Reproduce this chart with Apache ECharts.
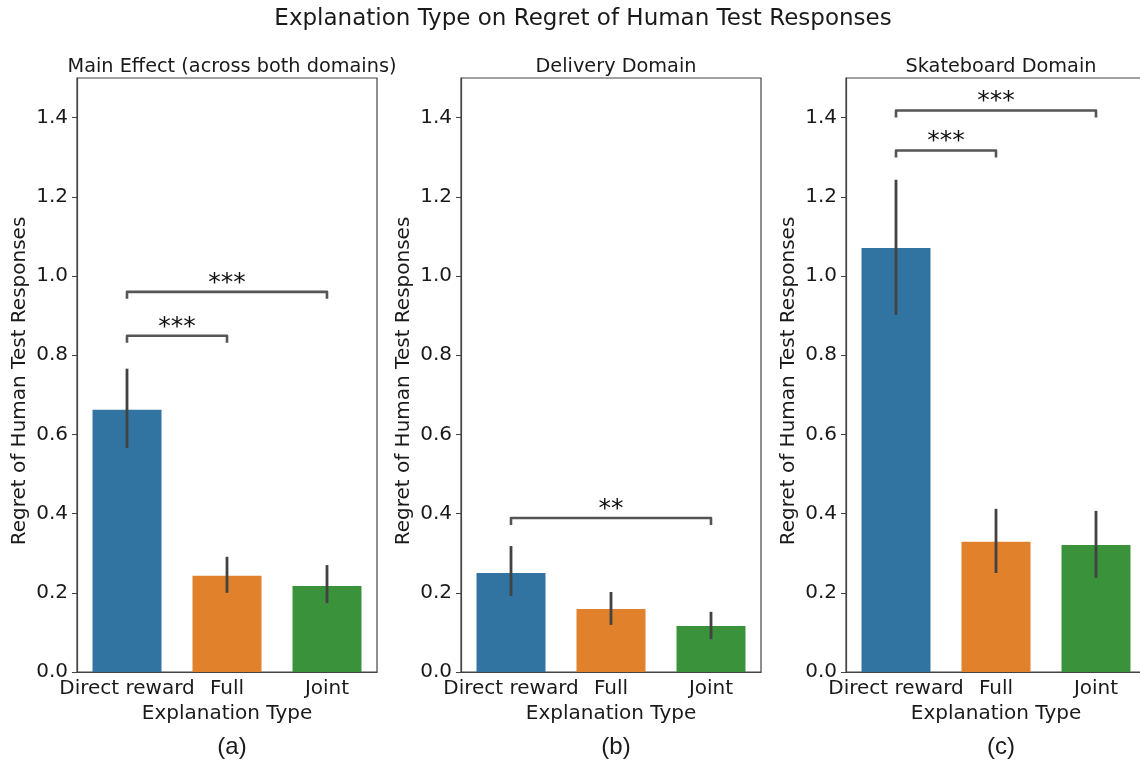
<!DOCTYPE html>
<html>
<head>
<meta charset="utf-8">
<script src="https://cdn.jsdelivr.net/npm/echarts@6/dist/echarts.min.js"></script>
<style>
html,body{margin:0;padding:0;background:#fff;overflow:hidden;}
#chart{width:1160px;height:767px;}
</style>
</head>
<body>
<div id="chart"></div>
<script>
// categories and tick labels
var categories = ['Direct reward', 'Full', 'Joint'];
var yTicks = [0, 0.2, 0.4, 0.6, 0.8, 1.0, 1.2, 1.4];
var panelTitles = ['Main Effect (across both domains)', 'Delivery Domain', 'Skateboard Domain'];
var panelTags = ['(a)', '(b)', '(c)'];

// mean regret and 95% CI per panel
var mainMean = [0.662, 0.243, 0.217];
var mainLow = [0.566, 0.200, 0.174];
var mainHigh = [0.766, 0.291, 0.270];

var deliveryMean = [0.250, 0.159, 0.116];
var deliveryLow = [0.192, 0.119, 0.083];
var deliveryHigh = [0.318, 0.202, 0.152];

var skateMean = [1.071, 0.329, 0.321];
var skateLow = [0.902, 0.250, 0.238];
var skateHigh = [1.243, 0.412, 0.407];

// significance brackets: [from, to, height, label]
var mainBrackets = [[0, 1, 0.849, '***'], [0, 2, 0.960, '***']];
var deliveryBrackets = [[0, 2, 0.389, '**']];
var skateBrackets = [[0, 1, 1.317, '***'], [0, 2, 1.418, '***']];

var palette = ['#3274a1', '#e1812c', '#3a923a'];
var panelLeft = [77, 461, 846];
var font = 'DejaVu Sans';

var panels = [
	{mean: mainMean, low: mainLow, high: mainHigh, brk: mainBrackets},
	{mean: deliveryMean, low: deliveryLow, high: deliveryHigh, brk: deliveryBrackets},
	{mean: skateMean, low: skateLow, high: skateHigh, brk: skateBrackets}
];

var grids = [], xAxes = [], yAxes = [], series = [];
var titles = [{
	text: 'Explanation Type on Regret of Human Test Responses',
	left: 578, top: 3, textAlign: 'center',
	textStyle: {fontFamily: font, fontSize: 23, fontWeight: 'normal', color: '#1a1a1a'}
}];

panels.forEach(function(p, i) {
	grids.push({
		left: panelLeft[i], top: 78, width: 300, height: 594,
		show: true, borderColor: '#444', borderWidth: 1.2, backgroundColor: '#fff'
	});
	xAxes.push({
		gridIndex: i, type: 'category', data: categories,
		name: 'Explanation Type', nameLocation: 'middle', nameGap: 31,
		nameTextStyle: {fontFamily: font, fontSize: 20, color: '#1a1a1a'},
		axisLine: {lineStyle: {color: '#444', width: 1.2}},
		axisTick: {alignWithLabel: true, length: 5, lineStyle: {color: '#444'}},
		axisLabel: {interval: 0, margin: 7, fontFamily: font, fontSize: 20, color: '#1a1a1a'}
	});
	yAxes.push({
		gridIndex: i, type: 'value', min: 0, max: 1.5,
		name: 'Regret of Human Test Responses', nameLocation: 'middle', nameGap: 47,
		nameTextStyle: {fontFamily: font, fontSize: 20, color: '#1a1a1a', padding: [0, 0, 0, -12]},
		splitLine: {show: false},
		axisLine: {show: true, lineStyle: {color: '#444', width: 1.2}},
		axisTick: {show: true, length: 5, customValues: yTicks, lineStyle: {color: '#444'}},
		axisLabel: {margin: 9, customValues: yTicks, fontFamily: font, fontSize: 20, color: '#1a1a1a',
			formatter: function(v) { return v.toFixed(1); }}
	});
	titles.push({
		text: panelTitles[i], left: panelLeft[i] + 150, top: 52, textAlign: 'center',
		textStyle: {fontFamily: font, fontSize: 19.3, fontWeight: 'normal', color: '#1a1a1a'}
	});
	titles.push({
		text: panelTags[i], left: panelLeft[i] + 150, top: 730, textAlign: 'center',
		textStyle: {fontFamily: 'Liberation Sans', fontSize: 24, fontWeight: 'normal', color: '#1a1a1a'}
	});

	// bars
	series.push({
		type: 'bar', xAxisIndex: i, yAxisIndex: i, barWidth: '69%',
		data: p.mean,
		itemStyle: {color: function(d) { return palette[d.dataIndex]; }},
		silent: true
	});
	// error bars
	var errData = [];
	for (var k = 0; k < categories.length; k++) {
		errData.push([k, p.low[k], p.high[k]]);
	}
	series.push({
		type: 'custom', xAxisIndex: i, yAxisIndex: i, data: errData, z: 5,
		renderItem: function(params, api) {
			var a = api.coord([api.value(0), api.value(1)]);
			var b = api.coord([api.value(0), api.value(2)]);
			return {type: 'line', shape: {x1: a[0], y1: a[1], x2: b[0], y2: b[1]},
				style: {stroke: '#424242', lineWidth: 2.8}};
		}
	});
	// significance brackets
	series.push({
		type: 'custom', xAxisIndex: i, yAxisIndex: i, data: p.brk, z: 6,
		renderItem: function(params, api) {
			var s = api.coord([api.value(0), api.value(2)]);
			var e = api.coord([api.value(1), api.value(2)]);
			var label = p.brk[params.dataIndex][3];
			var drop = 7;
			return {type: 'group', children: [
				{type: 'polyline', shape: {points: [[s[0], s[1] + drop], [s[0], s[1]], [e[0], e[1]], [e[0], e[1] + drop]]},
					style: {stroke: '#555', lineWidth: 2.6, fill: null, lineJoin: 'round'}},
				{type: 'text', x: (s[0] + e[0]) / 2, y: s[1] + 4,
					style: {text: label, fontFamily: font, fontSize: 25, fill: '#111', align: 'center', verticalAlign: 'bottom'}}
			]};
		}
	});
});

var chart = echarts.init(document.getElementById('chart'));
chart.setOption({
	animation: false,
	backgroundColor: '#fff',
	title: titles,
	grid: grids,
	xAxis: xAxes,
	yAxis: yAxes,
	series: series
});
</script>
</body>
</html>
